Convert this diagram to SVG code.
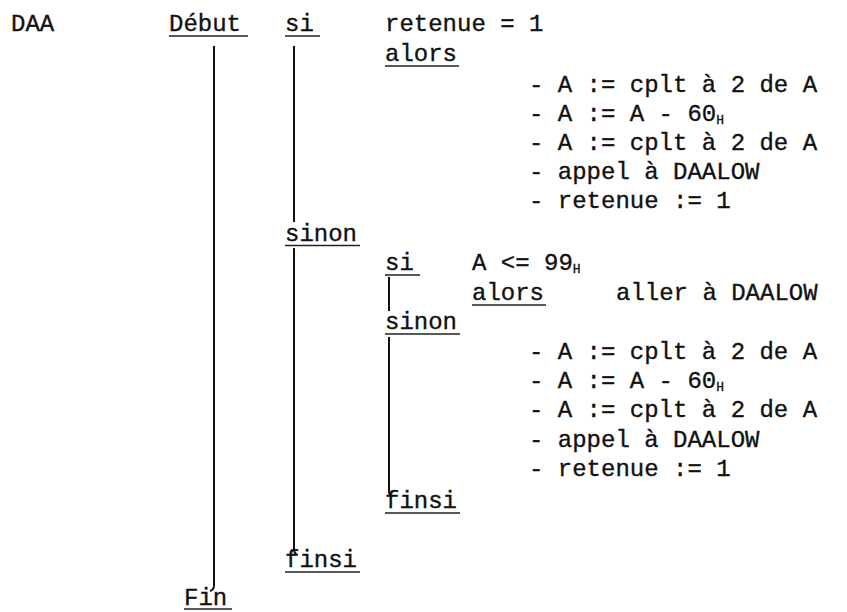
<svg xmlns="http://www.w3.org/2000/svg" width="847" height="612" viewBox="0 0 847 612">
<style>
text{font-family:"Liberation Mono","DejaVu Sans Mono",monospace;font-size:24px;fill:#111;stroke:#111;stroke-width:0.35;}
.sub{font-size:13px;}
.ul{stroke:#222;stroke-width:1.6;}
.bar{stroke:#111;stroke-width:2;fill:none;}
</style>
<rect width="847" height="612" fill="#fff"/>
<g id="connectors">
<path class="bar" d="M214,46 V585 Q214,590 210,591"/>
<path class="bar" d="M294,46 V222"/>
<path class="bar" d="M294,248 V549 Q294,553 297,555"/>
<path class="bar" d="M389,277 V311"/>
<path class="bar" d="M389,337 V491 Q389,495 392,497"/>
</g>
<g id="daa"><text x="11" y="31">DAA</text></g>
<g id="debut"><text x="169" y="31">Début</text><line class="ul" x1="169" y1="36" x2="248" y2="36"/></g>
<g id="si1"><text x="285" y="31">si</text><line class="ul" x1="285" y1="36" x2="320" y2="36"/></g>
<g id="cond1"><text x="385" y="31">retenue = 1</text></g>
<g id="alors1"><text x="385" y="61">alors</text><line class="ul" x1="385" y1="66" x2="459" y2="66"/></g>
<g id="actions1">
<text x="529" y="92">- A := cplt à 2 de A</text>
<text x="529" y="121">- A := A - 60<tspan class="sub" dy="3">H</tspan></text>
<text x="529" y="150">- A := cplt à 2 de A</text>
<text x="529" y="179">- appel à DAALOW</text>
<text x="529" y="208">- retenue := 1</text>
</g>
<g id="sinon1"><text x="285" y="240.5">sinon</text><line class="ul" x1="285" y1="245.5" x2="360" y2="245.5"/></g>
<g id="si2"><text x="385" y="270">si</text><line class="ul" x1="385" y1="275" x2="420" y2="275"/></g>
<g id="cond2"><text x="472" y="270">A &lt;= 99<tspan class="sub" dy="3">H</tspan></text></g>
<g id="alors2"><text x="472" y="300">alors</text><line class="ul" x1="472" y1="305" x2="546" y2="305"/><text x="616" y="300">aller à DAALOW</text></g>
<g id="sinon2"><text x="385" y="329">sinon</text><line class="ul" x1="385" y1="334" x2="460" y2="334"/></g>
<g id="actions2">
<text x="529" y="359">- A := cplt à 2 de A</text>
<text x="529" y="388">- A := A - 60<tspan class="sub" dy="3">H</tspan></text>
<text x="529" y="417">- A := cplt à 2 de A</text>
<text x="529" y="446.5">- appel à DAALOW</text>
<text x="529" y="475.5">- retenue := 1</text>
</g>
<g id="finsi2"><text x="385" y="508">finsi</text><line class="ul" x1="385" y1="513" x2="460" y2="513"/></g>
<g id="finsi1"><text x="285" y="567">finsi</text><line class="ul" x1="285" y1="572" x2="360" y2="572"/></g>
<g id="fin"><text x="184" y="605">Fin</text><line class="ul" x1="184" y1="609" x2="232" y2="609"/></g>
</svg>
